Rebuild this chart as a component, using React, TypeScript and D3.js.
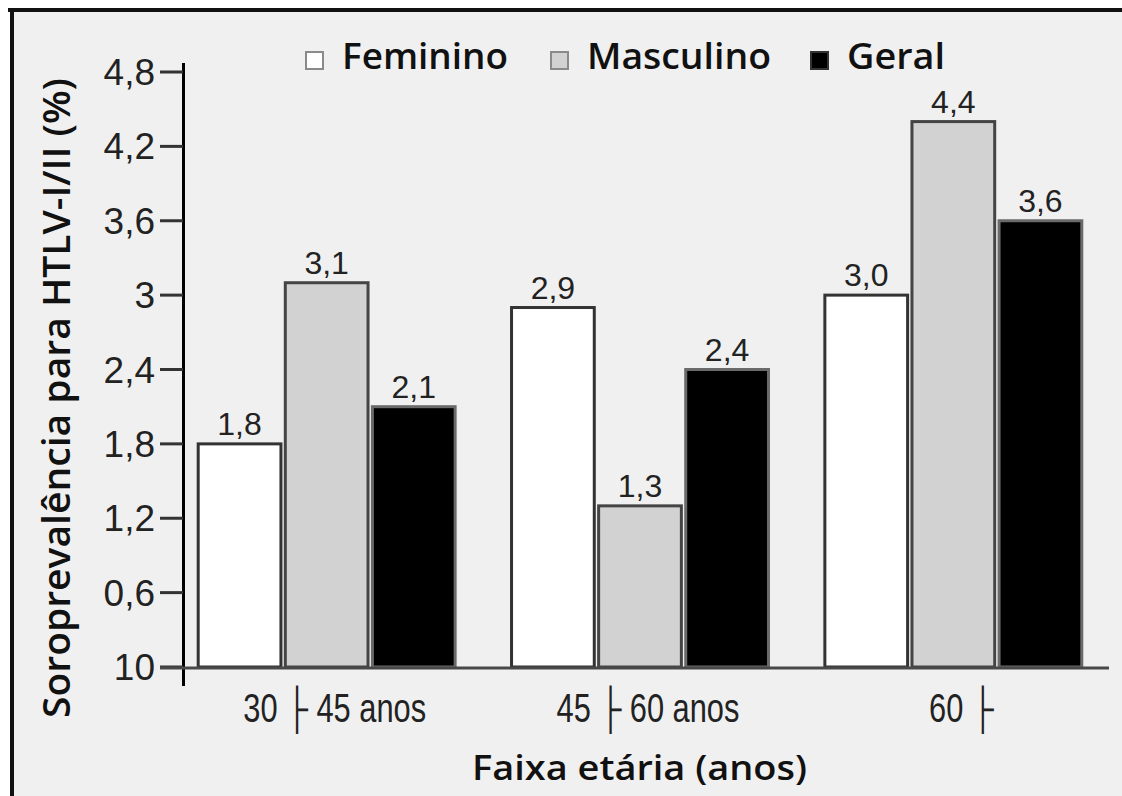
import React from 'react';
import * as d3 from 'd3';

// categories and series
const groups = ['30 ├ 45 anos', '45 ├ 60 anos', '60 ├'];
const series = ['Feminino', 'Masculino', 'Geral'];

// values (%)
const feminino = [1.8, 2.9, 3.0];
const masculino = [3.1, 1.3, 4.4];
const geral = [2.1, 2.4, 3.6];

const yTicks = [0, 0.6, 1.2, 1.8, 2.4, 3, 3.6, 4.2, 4.8];
const yTickLabels = ['10', '0,6', '1,2', '1,8', '2,4', '3', '3,6', '4,2', '4,8'];

const fills = ['#ffffff', '#d2d2d2', '#000000'];
const strokes = ['#333333', '#444444', '#6a6a6a'];
const legendStrokes = ['#8a8a8a', '#8a8a8a', '#333333'];

const W = 1122, H = 796;
const font = "'Liberation Sans', Arial, sans-serif";
const titleFont = "'Open Sans', 'Liberation Sans', sans-serif";

const fmt = (v: number) => d3.format('.1f')(v).replace('.', ',');

export default function App() {
    const values = [feminino, masculino, geral];

    const y = d3.scaleLinear().domain([0, 4.8]).range([667, 72]);
    const x0 = d3.scaleBand<string>()
        .domain(groups)
        .range([170, 1110])
        .paddingInner(0.18)
        .paddingOuter(0.09);
    const x1 = d3.scaleBand<string>()
        .domain(series)
        .range([0, x0.bandwidth()])
        .paddingInner(0.05);

    // legend layout
    const legendX = [306, 551, 811];
    const legendW = [166, 184, 98];

    return (
        <svg width={W} height={H} style={{position: 'absolute', left: 0, top: 0}}
             fontFamily={font}>
            <rect x={0} y={0} width={W} height={H} fill="#ffffff"/>
            <rect x={12} y={10} width={W - 12} height={H - 10} fill="#f0f0f0"/>
            {/* frame */}
            <line x1={8} x2={W} y1={10} y2={10} stroke="#111" strokeWidth={4}/>
            <line x1={12} x2={12} y1={8} y2={H} stroke="#111" strokeWidth={4}/>

            {/* legend */}
            {series.map((s, i) => (
                <g key={s}>
                    <rect x={legendX[i]} y={52} width={17} height={17}
                          fill={fills[i]} stroke={legendStrokes[i]} strokeWidth={2}/>
                    <text x={legendX[i] + 36} y={69} fontSize={36} fontWeight={600}
                          fontFamily={titleFont} fill="#111"
                          textLength={legendW[i]} lengthAdjust="spacingAndGlyphs">{s}</text>
                </g>
            ))}

            {/* bars */}
            {groups.map((g, gi) => (
                <g key={g} transform={'translate(' + x0(g) + ',0)'}>
                    {series.map((s, si) => {
                        const v = values[si][gi];
                        const bx = x1(s) as number;
                        return (
                            <g key={s}>
                                <rect x={bx} y={y(v)} width={x1.bandwidth()} height={y(0) - y(v)}
                                      fill={fills[si]} stroke={strokes[si]} strokeWidth={3}/>
                                <text x={bx + x1.bandwidth() / 2} y={y(v) - 9} textAnchor="middle"
                                      fontSize={32} fill="#222">{fmt(v)}</text>
                            </g>
                        );
                    })}
                </g>
            ))}

            {/* y axis */}
            <line x1={183.5} x2={183.5} y1={63} y2={686} stroke="#000" strokeWidth={3}/>
            {yTicks.map((t, i) => (
                <g key={t}>
                    <line x1={160} x2={183} y1={y(t)} y2={y(t)} stroke="#333" strokeWidth={3}/>
                    <text x={155} y={y(t) + 13} textAnchor="end" fontSize={37} fill="#222">
                        {yTickLabels[i]}
                    </text>
                </g>
            ))}

            {/* x axis baseline */}
            <line x1={160} x2={1109} y1={y(0) + 1} y2={y(0) + 1} stroke="#484848" strokeWidth={3}/>
            {groups.map(g => {
                const cx = (x0(g) as number) + x0.bandwidth() / 2 + 8;
                return (
                    <text key={g} transform={'translate(' + cx + ',722) scale(0.77,1)'}
                          textAnchor="middle" fontSize={40} fill="#222">{g}</text>
                );
            })}

            {/* titles */}
            <text x={472} y={780} fontSize={34} fontWeight={600} fill="#111" fontFamily={titleFont}
                  textLength={335} lengthAdjust="spacingAndGlyphs">Faixa etária (anos)</text>
            <text transform="translate(70,718) rotate(-90)" fontSize={37} fontWeight={600} fill="#111"
                  fontFamily={titleFont} textLength={640} lengthAdjust="spacingAndGlyphs">
                Soroprevalência para HTLV-I/II (%)
            </text>
        </svg>
    );
}
